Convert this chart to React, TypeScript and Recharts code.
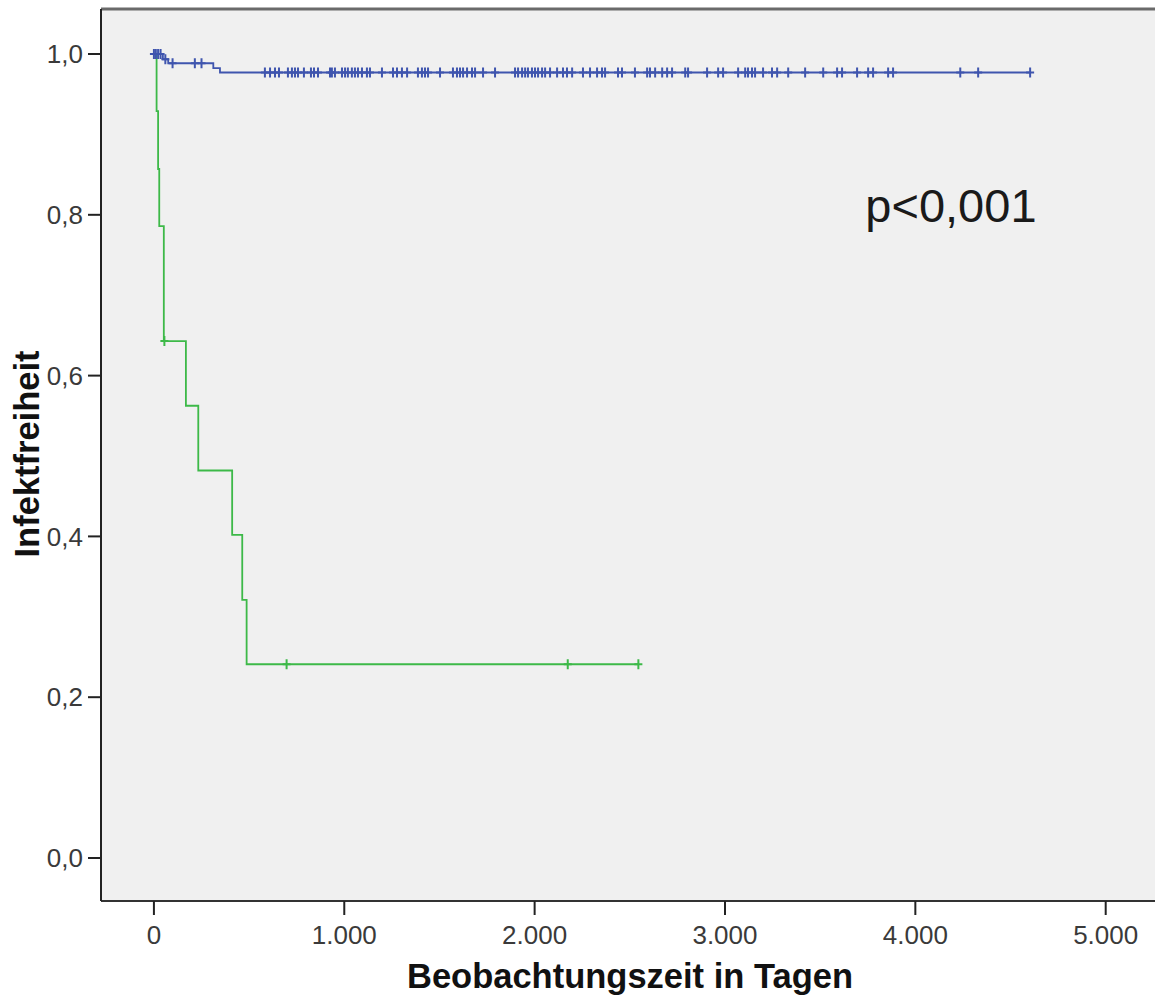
import React from 'react';
import {
  ComposedChart,
  Line,
  Scatter,
  XAxis,
  YAxis,
  CartesianGrid,
  ReferenceDot,
  ReferenceLine,
} from 'recharts';

// Green group: Kaplan-Meier steps (time in days, survival)
const GREEN_T = [0, 14, 22, 28, 52, 168, 233, 411, 464, 487, 2545];
const GREEN_S = [1, 0.929, 0.857, 0.786, 0.643, 0.5625, 0.482, 0.402, 0.321, 0.241, 0.241];
const GREEN_CENSOR_T = [55, 697, 2174, 2545];
const GREEN_CENSOR_S = [0.643, 0.241, 0.241, 0.241];

// Blue group
const BLUE_T = [0, 47, 75, 312, 347, 4603];
const BLUE_S = [1, 0.9935, 0.9885, 0.9825, 0.977, 0.977];
const BLUE_CENSOR_EARLY_T = [0, 10, 22, 35, 60, 98, 215, 250];
const BLUE_CENSOR_EARLY_S = [1, 1, 1, 1, 0.9935, 0.9885, 0.9885, 0.9885];
const BLUE_CENSOR_LATE_T = [
  583, 610, 636, 657, 704, 725, 741, 757, 788, 825, 841, 862, 925, 935, 951, 988,
  1004, 1019, 1040, 1056, 1072, 1093, 1119, 1135, 1198, 1256, 1277, 1303, 1330,
  1387, 1408, 1424, 1440, 1503, 1571, 1592, 1608, 1624, 1645, 1671, 1687, 1729,
  1792, 1897, 1913, 1934, 1950, 1965, 1986, 2002, 2018, 2039, 2055, 2081, 2118,
  2149, 2170, 2197, 2254, 2291, 2328, 2354, 2370, 2438, 2459, 2527, 2591, 2606,
  2633, 2670, 2696, 2722, 2791, 2806, 2906, 2964, 2990, 3069, 3106, 3121, 3142,
  3158, 3200, 3247, 3274, 3332, 3421, 3516, 3589, 3615, 3694, 3752, 3778, 3857,
  3883, 4236, 4330, 4603,
];
const BLUE_CENSOR_LATE_S = 0.977;

const X_TICKS = [0, 1000, 2000, 3000, 4000, 5000];
const X_TICK_LABELS = ['0', '1.000', '2.000', '3.000', '4.000', '5.000'];
const Y_TICKS = [0, 0.2, 0.4, 0.6, 0.8, 1.0];
const Y_TICK_LABELS = ['0,0', '0,2', '0,4', '0,6', '0,8', '1,0'];

const X_TITLE = 'Beobachtungszeit in Tagen';
const Y_TITLE = 'Infektfreiheit';
const P_TEXT = 'p<0,001';

const X_DOMAIN: [number, number] = [-278, 5259];
const Y_DOMAIN: [number, number] = [-0.0535, 1.056];

const BLUE = '#3f55ae';
const GREEN = '#3db948';
const FONT = '"Liberation Sans", Arial, sans-serif';

const greenLine = GREEN_T.map((t, i) => ({ t, s: GREEN_S[i] }));
const greenCensor = GREEN_CENSOR_T.map((t, i) => ({ t, s: GREEN_CENSOR_S[i] }));
const blueLine = BLUE_T.map((t, i) => ({ t, s: BLUE_S[i] }));
const blueCensor = [
  ...BLUE_CENSOR_EARLY_T.map((t, i) => ({ t, s: BLUE_CENSOR_EARLY_S[i] })),
  ...BLUE_CENSOR_LATE_T.map((t) => ({ t, s: BLUE_CENSOR_LATE_S })),
];

const plus = (color: string) => (props: any) => {
  const { cx, cy } = props;
  if (cx == null || cy == null) return <g />;
  return (
    <path
      d={`M${cx - 4},${cy}H${cx + 4}M${cx},${cy - 5}V${cy + 5}`}
      stroke={color}
      strokeWidth={2}
      fill="none"
    />
  );
};

export default function App() {
  return (
    <div
      style={{
        position: 'absolute',
        left: 0,
        top: 0,
        width: 1155,
        height: 996,
        overflow: 'hidden',
        background: '#fff',
      }}
    >
      <ComposedChart
        width={1155}
        height={996}
        margin={{ top: 9, right: 0, bottom: 0, left: 0 }}
        style={{ fontFamily: FONT }}
      >
        <CartesianGrid horizontal={false} vertical={false} fill="#f0f0f0" />
        <XAxis
          type="number"
          dataKey="t"
          domain={X_DOMAIN}
          allowDataOverflow
          ticks={X_TICKS}
          tickFormatter={(v: number) => X_TICK_LABELS[X_TICKS.indexOf(v)] ?? String(v)}
          tickSize={14}
          tickMargin={11}
          height={95}
          axisLine={{ stroke: '#333', strokeWidth: 2 }}
          tickLine={{ stroke: '#222', strokeWidth: 2 }}
          tick={{ fontSize: 26, fill: '#3a3a3a', fontFamily: FONT }}
          label={{
            content: () => (
              <text
                x={630}
                y={988}
                textAnchor="middle"
                fontSize={34.5}
                fontWeight="bold"
                fill="#111"
                fontFamily={FONT}
              >
                {X_TITLE}
              </text>
            ),
          }}
        />
        <YAxis
          type="number"
          dataKey="s"
          domain={Y_DOMAIN}
          allowDataOverflow
          ticks={Y_TICKS}
          tickFormatter={(v: number) => Y_TICK_LABELS[Y_TICKS.indexOf(v)] ?? String(v)}
          width={101}
          tickSize={13}
          tickMargin={5}
          axisLine={{ stroke: '#222', strokeWidth: 2 }}
          tickLine={{ stroke: '#222', strokeWidth: 2 }}
          tick={{ fontSize: 26, fill: '#3a3a3a', fontFamily: FONT }}
          label={{
            content: () => (
              <text
                x={27}
                y={454}
                transform="rotate(-90, 27, 454)"
                textAnchor="middle"
                dominantBaseline="central"
                fontSize={34.5}
                fontWeight="bold"
                fill="#111"
                fontFamily={FONT}
              >
                {Y_TITLE}
              </text>
            ),
          }}
        />
        <ReferenceLine y={Y_DOMAIN[1]} stroke="#6a6a6a" strokeWidth={3} />
        <Line
          data={greenLine}
          dataKey="s"
          type="stepAfter"
          stroke={GREEN}
          strokeWidth={1.8}
          dot={false}
          activeDot={false}
          isAnimationActive={false}
        />
        <Line
          data={blueLine}
          dataKey="s"
          type="stepAfter"
          stroke={BLUE}
          strokeWidth={1.8}
          dot={false}
          activeDot={false}
          isAnimationActive={false}
        />
        <Scatter
          data={greenCensor}
          dataKey="s"
          shape={plus(GREEN)}
          isAnimationActive={false}
        />
        <Scatter
          data={blueCensor}
          dataKey="s"
          shape={plus(BLUE)}
          isAnimationActive={false}
        />
        <ReferenceDot
          x={4187}
          y={0.812}
          r={0}
          fill="none"
          stroke="none"
          label={{ value: P_TEXT, position: 'center', fontSize: 47, fill: '#1a1a1a', fontFamily: FONT }}
        />
      </ComposedChart>
    </div>
  );
}
